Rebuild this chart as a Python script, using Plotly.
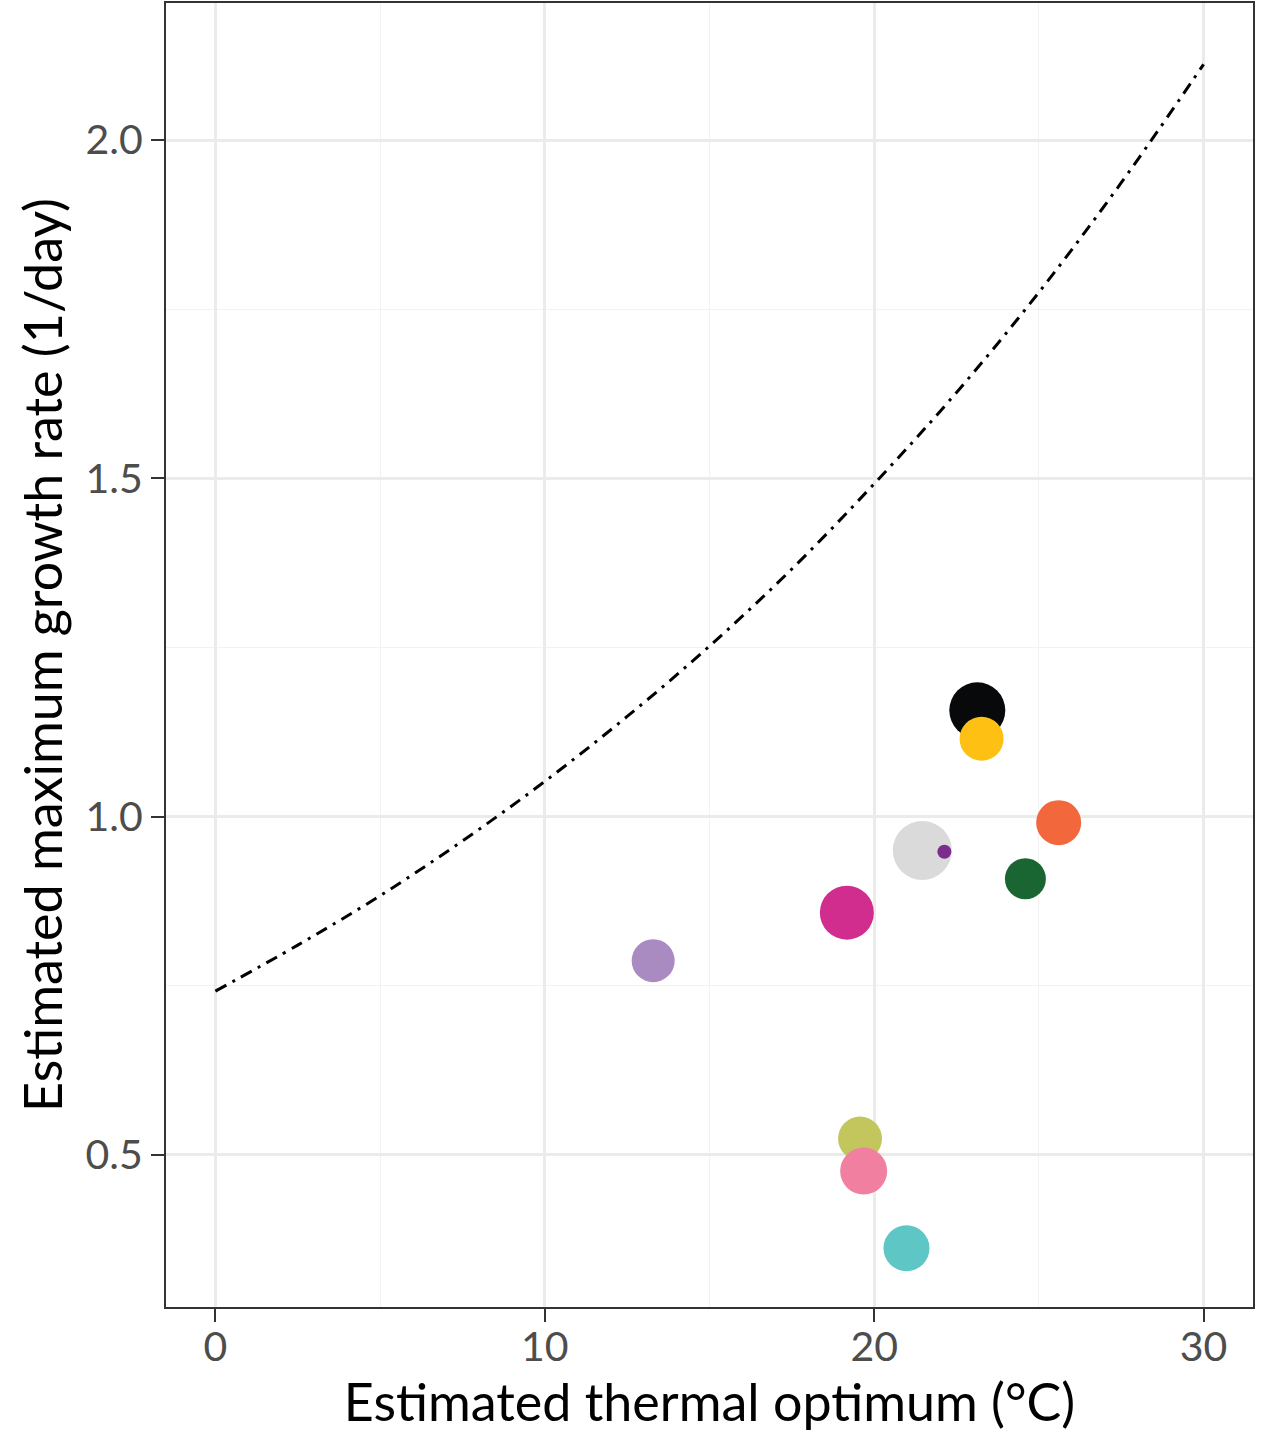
import plotly.graph_objects as go

# Species estimates: thermal optimum (°C), max growth rate (1/day), point diameter (px), colour
topt = [23.13, 23.26, 25.60, 21.46, 22.13, 24.59, 13.29, 19.17, 19.57, 19.68, 20.98]
mu_max = [1.157, 1.115, 0.991, 0.950, 0.948, 0.908, 0.787, 0.858, 0.524, 0.476, 0.362]
sizes = [56, 44, 45, 59, 14, 41, 43, 54, 44, 47, 46]
colors = ["#08090B", "#FEC013", "#F2673C", "#DADADA", "#7B2D8E", "#1A6632",
          "#A98AC1", "#D12D8F", "#C2C65C", "#F07FA0", "#5FC6C6"]

# Reference upper-bound growth curve
curve_t = [0, 2.5, 5, 7.5, 10, 12.5, 15, 17.5, 20, 22.5, 25, 27.5, 30]
curve_mu = [0.742, 0.810, 0.883, 0.964, 1.052, 1.148, 1.252, 1.366, 1.492,
            1.627, 1.775, 1.937, 2.112]

x_ticks = [0, 10, 20, 30]
y_ticks = [0.5, 1.0, 1.5, 2.0]
y_tick_text = ["0.5", "1.0", "1.5", "2.0"]

fig = go.Figure()

fig.add_trace(go.Scatter(
    x=curve_t, y=curve_mu, mode="lines", line_shape="spline",
    line=dict(color="black", width=3, dash="12px,7px,3px,7px"),
    hoverinfo="skip", showlegend=False,
))

fig.add_trace(go.Scatter(
    x=topt, y=mu_max, mode="markers",
    marker=dict(size=sizes, color=colors, opacity=1, line=dict(width=0)),
    showlegend=False,
))

axis_common = dict(
    showline=True, mirror=True, linecolor="#333333", linewidth=2,
    ticks="outside", ticklen=13, tickwidth=2, tickcolor="#333333",
    showgrid=True, gridcolor="#EBEBEB", gridwidth=2.5, zeroline=False,
    tickfont=dict(family="Lato", size=41, color="#4D4D4D"),
)

fig.update_xaxes(
    range=[-1.5, 31.5], tickvals=x_ticks, ticklabelstandoff=-10,
    minor=dict(dtick=5, tick0=0, showgrid=True, gridcolor="#F2F2F2", gridwidth=1.3, ticks=""),
    title=dict(text="Estimated thermal optimum (°C)",
               font=dict(family="Lato", size=52, color="black"), standoff=4),
    **axis_common,
)
fig.update_yaxes(
    range=[0.275, 2.2027], tickvals=y_ticks, ticktext=y_tick_text,
    minor=dict(dtick=0.25, tick0=0.25, showgrid=True, gridcolor="#F2F2F2", gridwidth=1.3, ticks=""),
    title=dict(text="Estimated maximum growth rate (1/day)",
               font=dict(family="Lato", size=52, color="black"), standoff=6),
    **axis_common,
)

fig.update_layout(
    width=1266, height=1432,
    margin=dict(l=166, r=13, t=1, b=125),
    paper_bgcolor="white", plot_bgcolor="white",
)

fig.write_html("out.html")
